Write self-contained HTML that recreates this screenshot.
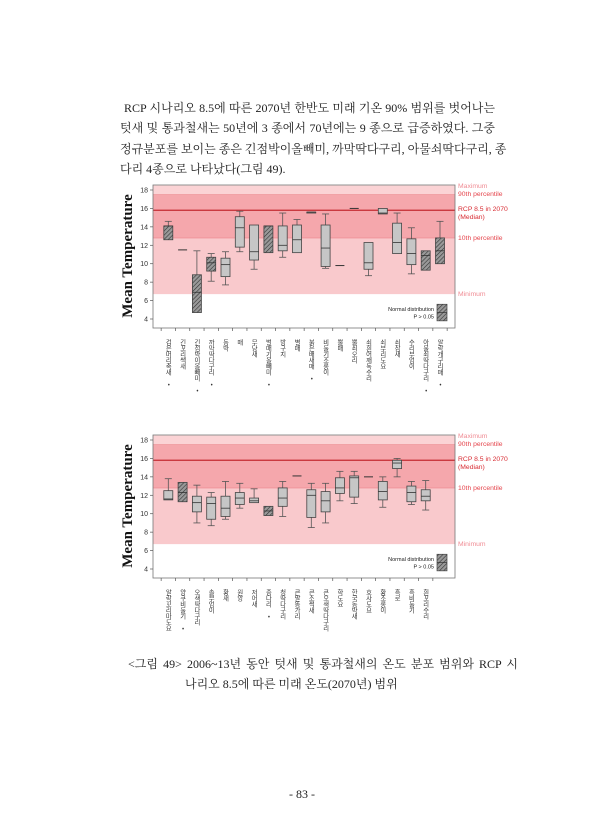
<!DOCTYPE html>
<html><head><meta charset="utf-8">
<style>
body{margin:0;background:#fff;width:613px;height:840px;position:relative;overflow:hidden;font-family:"Liberation Serif","Noto Serif CJK SC","Noto Sans CJK KR",serif;}
.p{position:absolute;left:120px;font-size:12px;color:#222;white-space:nowrap;width:375px;text-align:justify;text-align-last:justify}
.lab{position:absolute;writing-mode:vertical-rl;text-orientation:upright;font-size:6.3px;line-height:8px;color:#333;font-family:"Noto Sans CJK KR",sans-serif;letter-spacing:-0.3px;transform:translateX(-4px)}
svg text{font-family:"Liberation Sans",sans-serif}
</style></head><body>
<div class="p" style="top:99px;left:124px;width:371px">RCP 시나리오 8.5에 따른 2070년 한반도 미래 기온 90% 범위를 벗어나는</div>
<div class="p" style="top:119px">텃새 및 통과철새는 50년에 3 종에서 70년에는 9 종으로 급증하였다. 그중</div>
<div class="p" style="top:140px">정규분포를 보이는 종은 긴점박이올빼미, 까막딱다구리, 아물쇠딱다구리, 종</div>
<div class="p" style="top:160px;width:auto;text-align-last:auto">다리 4종으로 나타났다(그림 49).</div>

<svg id="chart1" width="613" height="340" style="position:absolute;left:0;top:0" xmlns="http://www.w3.org/2000/svg">
<defs><pattern id="hatch" width="3" height="3" patternUnits="userSpaceOnUse" patternTransform="rotate(45)"><rect width="3" height="3" fill="#999"/><line x1="0" y1="0" x2="0" y2="3" stroke="#333" stroke-width="1.2"/></pattern></defs>
</svg>
<svg id="chart2" width="613" height="590" style="position:absolute;left:0;top:0" xmlns="http://www.w3.org/2000/svg"></svg>

<div class="p" style="top:655px;left:128px;width:390px">&lt;그림 49&gt; 2006~13년 동안 텃새 및 통과철새의 온도 분포 범위와 RCP 시</div>
<div class="p" style="top:675px;left:185px;width:auto;text-align-last:auto">나리오 8.5에 따른 미래 온도(2070년) 범위</div>
<div class="p" style="top:787px;left:289px;width:auto;text-align-last:auto">- 83 -</div>

<script>
const cats1=["검은머리촉새 •","긴꼬리쌕새","긴점박이올빼미 •","까막딱다구리 •","동박","매","무당새","벌매기올빼미 •","방구지","별매","붉은배새매 •","비둘기조롱이","뿔매","뿔쇠오리","쇠흰어깨독수리","쇠부리도요","쇠참새","수리부엉이","아물쇠딱다구리 •","알락개구리매 •"];
const q1_1=[12.6,11.5,4.7,9.2,8.6,11.8,10.4,11.2,11.4,11.2,15.5,9.7,9.8,16.0,9.4,15.4,11.1,9.9,9.3,10.0];
const med1=[14.1,11.5,6.9,10.1,9.9,13.9,11.3,14.1,12.0,12.6,15.6,11.7,9.8,16.0,10.1,15.5,12.3,11.1,10.9,11.4];
const q3_1=[14.1,11.5,8.8,10.7,10.6,15.1,14.2,14.1,14.1,14.2,15.6,14.2,9.8,16.0,12.3,16.0,14.4,12.7,11.4,12.8];
const lo1=[12.6,11.5,4.7,8.1,7.7,11.3,9.4,11.2,10.7,11.2,15.5,9.5,9.8,16.0,8.7,15.4,11.1,8.9,9.3,10.0];
const hi1=[14.6,11.5,11.4,11.1,11.3,15.7,14.2,14.1,15.5,14.8,15.6,15.4,9.8,16.0,12.3,16.0,15.5,13.9,11.4,14.6];
const hat1=[1,0,1,1,0,0,0,1,0,0,0,0,0,0,0,0,0,0,1,1];

const cats2=["알락꼬리마도요","양쿠비둘기 •","오색딱다구리","솔부엉이","황새","원앙","저어새","종다리 •","청딱다구리","큰말똥가리","큰소쩍새","큰오색딱다구리","학도요","한국동박새","호사도요","황조롱이","흑로","흑비둘기","흰꼬리수리"];
const q1_2=[11.5,11.3,10.2,9.4,9.7,11.0,11.2,9.8,10.8,14.1,9.6,10.2,12.2,11.8,14.0,11.5,14.9,11.3,11.4];
const med2=[11.6,12.3,11.2,11.1,10.6,11.7,11.4,10.3,11.7,14.1,12.0,11.4,12.8,13.9,14.0,12.4,15.5,12.3,11.9];
const q3_2=[12.5,13.4,11.9,11.8,11.9,12.3,11.7,10.8,12.8,14.1,12.6,12.4,13.9,14.1,14.0,13.5,15.8,13.0,12.6];
const lo2=[11.5,11.3,9.0,8.7,9.4,10.6,11.2,9.8,9.7,14.1,8.5,9.0,11.4,11.1,14.0,10.7,14.0,11.0,10.4];
const hi2=[13.8,13.4,13.1,12.3,13.5,13.3,12.7,10.8,13.5,14.1,13.3,13.3,14.6,14.6,14.0,14.0,16.0,13.5,13.6];
const hat2=[0,1,0,0,0,0,0,1,0,0,0,0,0,0,0,0,0,0,0];

const yTicks=[4,6,8,10,12,14,16,18];
const bandMax=18.5, band90=17.5, bandMed=15.8, band10=12.8, bandMin=6.7;
const NS="http://www.w3.org/2000/svg";
function mk(svg,tag,attrs){const e=document.createElementNS(NS,tag);for(const k in attrs)e.setAttribute(k,attrs[k]);svg.appendChild(e);return e;}

function draw(svg,off,cats,q1,med,q3,lo,hi,hat){
  const L=153,R=455,T=185+off,B=328+off;
  const y=v=>190+off+(18-v)*(129/14);
  const step=14.3, x=i=>168.3+i*step;
  const rb=(a,b,c,n)=>{const r=mk(svg,'rect',{x:L,y:y(a),width:R-L,height:y(b)-y(a),fill:c});};
  rb(bandMax,band90,'#fbd3d5','band-max-90');
  rb(band90,band10,'#f5a7ac','band-90-10');
  rb(band10,bandMin,'#f9c9cc','band-10-min');
  mk(svg,'line',{x1:L,x2:R,y1:y(band90),y2:y(band90),stroke:'#ee9197','stroke-width':0.8});
  mk(svg,'line',{x1:L,x2:R,y1:y(band10),y2:y(band10),stroke:'#ee9197','stroke-width':0.8});
  const ml=mk(svg,'line',{x1:L,x2:R,y1:y(bandMed),y2:y(bandMed),stroke:'#c42a31','stroke-width':1.3});
  
  mk(svg,'rect',{x:L,y:T,width:R-L,height:B-T,fill:'none',stroke:'#777','stroke-width':0.8});
  yTicks.forEach(t=>{
    mk(svg,'line',{x1:L-3,x2:L,y1:y(t),y2:y(t),stroke:'#555','stroke-width':0.7});
    const tx=mk(svg,'text',{x:L-5,y:y(t)+2.5,'font-size':7,'text-anchor':'end',fill:'#333'});tx.textContent=t;
    
  });
  for(let i=0;i<=cats.length;i++){mk(svg,'line',{x1:x(i)-step/2,x2:x(i)-step/2,y1:B,y2:B+3,stroke:'#555','stroke-width':0.7});}
  cats.forEach((c,i)=>{
    const g=mk(svg,'g',{});
    
    
    const cx=x(i),w=9;
    const d=document.createElement('div');d.className='lab';d.textContent=c;
    d.style.left=cx+'px';d.style.top=(B+11)+'px';
    
    
    document.body.appendChild(d);
    if(q1[i]===q3[i]){mk(g,'line',{x1:cx-w/2,x2:cx+w/2,y1:y(med[i]),y2:y(med[i]),stroke:'#333','stroke-width':1});return;}
    mk(g,'line',{x1:cx,x2:cx,y1:y(hi[i]),y2:y(q3[i]),stroke:'#555','stroke-width':0.8});
    mk(g,'line',{x1:cx,x2:cx,y1:y(q1[i]),y2:y(lo[i]),stroke:'#555','stroke-width':0.8});
    if(hi[i]>q3[i])mk(g,'line',{x1:cx-3.5,x2:cx+3.5,y1:y(hi[i]),y2:y(hi[i]),stroke:'#555','stroke-width':0.8});
    if(lo[i]<q1[i])mk(g,'line',{x1:cx-3.5,x2:cx+3.5,y1:y(lo[i]),y2:y(lo[i]),stroke:'#555','stroke-width':0.8});
    mk(g,'rect',{x:cx-w/2,y:y(q3[i]),width:w,height:y(q1[i])-y(q3[i]),fill:hat[i]?'url(#hatch)':'#c6c6c6',stroke:'#444','stroke-width':0.8});
    mk(g,'line',{x1:cx-w/2,x2:cx+w/2,y1:y(med[i]),y2:y(med[i]),stroke:'#333','stroke-width':0.8});
  });
  mk(svg,'rect',{x:437,y:y(5.6),width:10,height:y(3.8)-y(5.6),fill:'url(#hatch)',stroke:'#444','stroke-width':0.7});
  mk(svg,'line',{x1:437,x2:447,y1:y(4.7),y2:y(4.7),stroke:'#333','stroke-width':0.7});
  const l1=mk(svg,'text',{x:434,y:y(4.7)-1.5,'font-size':5.5,'text-anchor':'end',fill:'#222'});l1.textContent='Normal distribution';
  
  const l2=mk(svg,'text',{x:434,y:y(4.7)+6,'font-size':5.5,'text-anchor':'end',fill:'#222'});l2.textContent='P  > 0.05';
  
  const rl=(t,yy,c,n)=>{const e=mk(svg,'text',{x:458,y:yy,'font-size':6.8,fill:c});e.textContent=t;};
  rl('Maximum',188+off,'#f08c94','label-maximum');
  rl('90th percentile',196+off,'#e5454c','label-90th');
  rl('RCP 8.5 in 2070',211+off,'#d82c33','label-rcp');
  rl('(Median)',219+off,'#d82c33','label-median');
  rl('10th percentile',240+off,'#e5454c','label-10th');
  rl('Minimum',296+off,'#f08c94','label-minimum');
  const at=mk(svg,'text',{x:0,y:0,'font-size':15,'font-weight':'bold','text-anchor':'middle',fill:'#111',transform:`translate(132,${256+off}) rotate(-90)`,style:'font-family:"Liberation Serif",serif'});
  at.textContent='Mean Temperature';
  
}
const s1=document.getElementById('chart1'),s2=document.getElementById('chart2');
draw(s1,0,cats1,q1_1,med1,q3_1,lo1,hi1,hat1);
const defs=s1.querySelector('defs').cloneNode(true);s2.appendChild(defs);
draw(s2,250,cats2,q1_2,med2,q3_2,lo2,hi2,hat2);
</script>
</body></html>
